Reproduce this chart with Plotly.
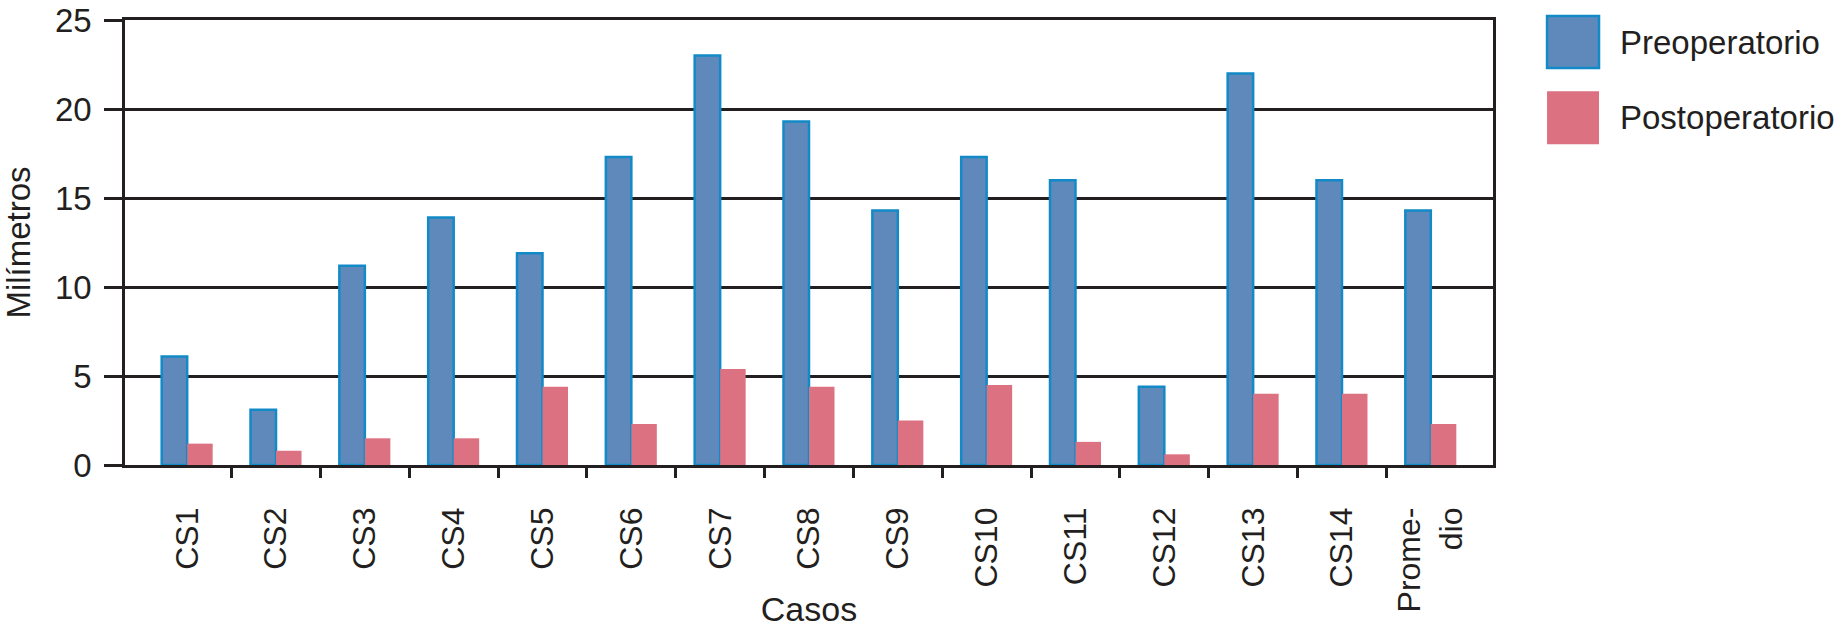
import plotly.graph_objects as go

categories = ["CS1", "CS2", "CS3", "CS4", "CS5", "CS6", "CS7", "CS8", "CS9",
              "CS10", "CS11", "CS12", "CS13", "CS14", "Prome-<br>dio"]
preoperatorio = [6.1, 3.1, 11.2, 13.9, 11.9, 17.3, 23.0, 19.3, 14.3,
                 17.3, 16.0, 4.4, 22.0, 16.0, 14.3]
postoperatorio = [1.2, 0.8, 1.5, 1.5, 4.4, 2.3, 5.4, 4.4, 2.5,
                  4.5, 1.3, 0.6, 4.0, 4.0, 2.3]
series_names = ["Preoperatorio", "Postoperatorio"]
y_ticks = [0, 5, 10, 15, 20, 25]

BLUE = "#5f89bb"
BLUE_EDGE = "#138ac8"
PINK = "#db7181"
INK = "#231f20"
FONT = "Liberation Sans, Arial, sans-serif"

xpos = list(range(len(categories)))

fig = go.Figure()
fig.add_trace(go.Bar(
    x=xpos, y=preoperatorio, name=series_names[0],
    marker=dict(color=BLUE, line=dict(color=BLUE_EDGE, width=2.5)),
    showlegend=False,
))
fig.add_trace(go.Bar(
    x=xpos, y=postoperatorio, name=series_names[1],
    marker=dict(color=PINK, line=dict(width=0)),
    showlegend=False,
))

# custom legend (large swatches like the reference)
legend_items = [(series_names[0], BLUE, BLUE_EDGE, 2.5, 1.009, 0.892),
                (series_names[1], PINK, PINK, 0, 0.840, 0.721)]
for name, fill, edge, lw, y1, y0 in legend_items:
    fig.add_shape(type="rect", xref="paper", yref="paper",
                  x0=1.0395, x1=1.0775, y0=y0, y1=y1,
                  fillcolor=fill, line=dict(color=edge, width=lw))
    fig.add_annotation(xref="paper", yref="paper", x=1.0915, y=(y0 + y1) / 2,
                       text=name, showarrow=False, xanchor="left", yanchor="middle",
                       font=dict(family=FONT, size=33, color=INK))

fig.update_layout(
    width=1836, height=628,
    margin=dict(l=125, r=343, t=20, b=163),
    paper_bgcolor="white", plot_bgcolor="white",
    barmode="group", bargap=0.426, bargroupgap=0,
    font=dict(family=FONT, size=32, color=INK),
)
fig.update_xaxes(
    automargin=False,
    range=[-0.7, 14.7],
    tickmode="array", tickvals=xpos, ticktext=categories,
    tickangle=-90, ticks="outside", ticklen=27, tickcolor="rgba(0,0,0,0)",
    tickfont=dict(family=FONT, size=32, color=INK),
    minor=dict(tickmode="array", tickvals=[i + 0.5 for i in xpos[:-1]],
               ticks="outside", ticklen=10, tickwidth=2.5, tickcolor=INK,
               showgrid=False),
    showgrid=False, zeroline=False,
    showline=True, linecolor=INK, linewidth=2.5, mirror=True,
    title=dict(text="Casos", standoff=8, font=dict(family=FONT, size=34, color=INK)),
)
fig.update_yaxes(
    automargin=False,
    range=[0, 25], tickmode="array", tickvals=y_ticks,
    ticks="outside", ticklen=18, tickwidth=2.5, tickcolor=INK,
    ticklabelstandoff=6, ticklabeloverflow="allow",
    tickfont=dict(family=FONT, size=33, color=INK),
    showgrid=True, gridcolor=INK, gridwidth=2.5,
    zeroline=False,
    showline=True, linecolor=INK, linewidth=2.5, mirror=True,
    title=dict(text="Milímetros", standoff=46, font=dict(family=FONT, size=33, color=INK)),
)

fig.write_html("out.html", config={"displayModeBar": False},
               post_script="document.body.style.margin='0';")
